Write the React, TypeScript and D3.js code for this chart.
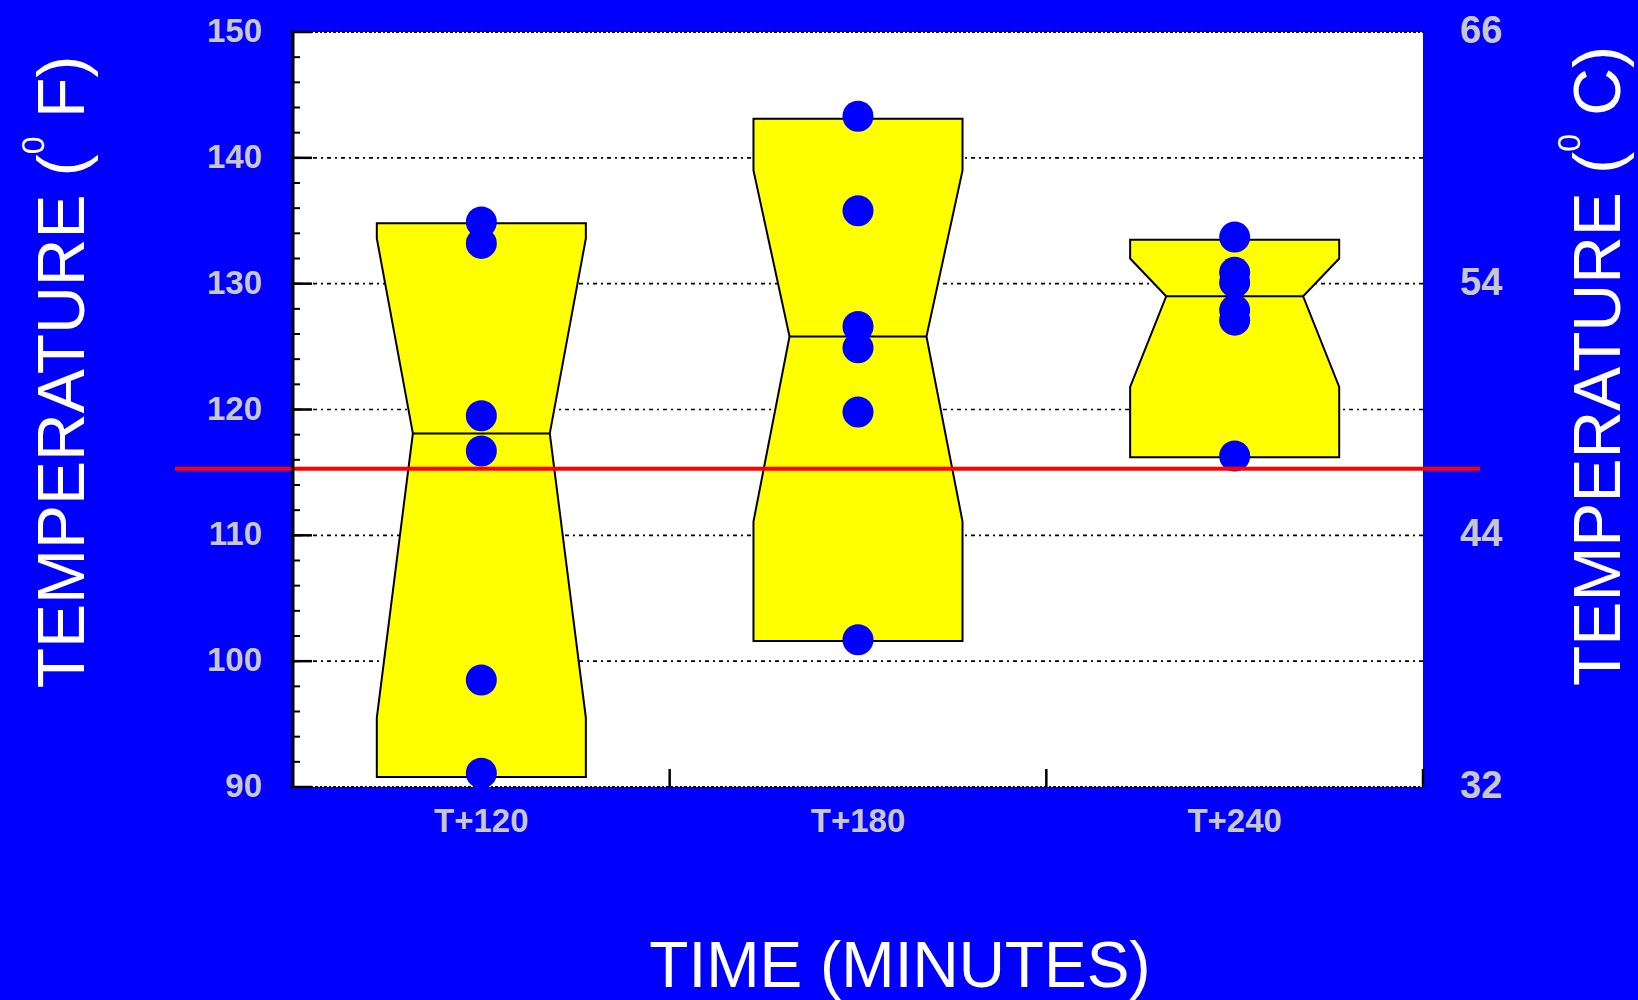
import React from "react";
import * as d3 from "d3";

const categories = ["T+120", "T+180", "T+240"];
const pointsT120 = [134.9, 133.2, 119.5, 116.7, 98.5, 91.1];
const pointsT180 = [143.3, 135.8, 126.6, 124.9, 119.8, 101.7];
const pointsT240 = [133.7, 130.9, 130.1, 127.9, 127.1, 116.3];
const seriesPoints = [pointsT120, pointsT180, pointsT240];

const boxHigh = [134.8, 143.1, 133.5];
const notchHigh = [133.6, 139.0, 132.0];
const medians = [118.1, 125.8, 129.0];
const notchLow = [95.5, 111.1, 121.8];
const boxLow = [90.8, 101.6, 116.2];

const referenceLine = 115.3;

const fTicks = [90, 100, 110, 120, 130, 140, 150];
const fMinorTicks = d3.range(90, 150.01, 2);
const cTickLabels = ["32", "44", "54", "66"];
const cTickPositionsF = [90, 110, 130, 150];

const W = 1638;
const H = 1000;
const M = { left: 293, right: 1423, top: 32, bottom: 787 };

export default function App() {
  const x = d3.scaleBand<string>().domain(categories).range([M.left, M.right]).padding(0);
  const y = d3.scaleLinear().domain([90, 150]).range([M.bottom, M.top]);
  const bw = x.bandwidth();
  const halfW = bw * 0.2775;
  const notchRatio = 0.655;
  const font = "'Liberation Sans', Arial, sans-serif";
  const tickColor = "#c8c8c8";

  const boxPath = (i: number) => {
    const cx = (x(categories[i]) as number) + bw / 2;
    const line = d3.line();
    const pts: [number, number][] = [
      [cx - halfW, y(boxHigh[i])],
      [cx - halfW, y(notchHigh[i])],
      [cx - halfW * notchRatio, y(medians[i])],
      [cx - halfW, y(notchLow[i])],
      [cx - halfW, y(boxLow[i])],
      [cx + halfW, y(boxLow[i])],
      [cx + halfW, y(notchLow[i])],
      [cx + halfW * notchRatio, y(medians[i])],
      [cx + halfW, y(notchHigh[i])],
      [cx + halfW, y(boxHigh[i])],
    ];
    return line(pts) + "Z";
  };

  return (
    <svg
      width={W}
      height={H}
      style={{ position: "absolute", left: 0, top: 0, display: "block" }}
    >
      <rect x={0} y={0} width={W} height={H} fill="#0000ff" />
      <rect x={M.left} y={M.top} width={M.right - M.left} height={M.bottom - M.top} fill="#ffffff" />

      {/* gridlines */}
      {fTicks.filter((t) => t !== 90 && t !== 150).map((t) => (
        <line
          key={"g" + t}
          x1={M.left}
          x2={M.right}
          y1={y(t)}
          y2={y(t)}
          stroke="#000"
          strokeWidth={1.6}
          strokeDasharray="2 4 4 4"
        />
      ))}
      {[90, 150].map((t) => (
        <line
          key={"b" + t}
          x1={M.left}
          x2={M.right}
          y1={y(t)}
          y2={y(t)}
          stroke="#000"
          strokeWidth={2}
          strokeDasharray="2 2 3 2"
        />
      ))}

      {/* boxes */}
      {categories.map((c, i) => {
        const cx = (x(c) as number) + bw / 2;
        return (
          <g key={c}>
            <path d={boxPath(i)} fill="#ffff00" stroke="#000" strokeWidth={2} />
            <line
              x1={cx - halfW * notchRatio}
              x2={cx + halfW * notchRatio}
              y1={y(medians[i])}
              y2={y(medians[i])}
              stroke="#000"
              strokeWidth={2}
            />
          </g>
        );
      })}

      {/* points */}
      {categories.map((c, i) => {
        const cx = (x(c) as number) + bw / 2;
        return seriesPoints[i].map((v, j) => (
          <circle key={c + j} cx={cx} cy={y(v)} r={15.5} fill="#0000ff" />
        ));
      })}

      {/* reference line */}
      <line
        x1={M.left - 118}
        x2={M.right + 57}
        y1={y(referenceLine)}
        y2={y(referenceLine)}
        stroke="#ff0000"
        strokeWidth={4}
      />

      {/* left axis */}
      <line x1={M.left} x2={M.left} y1={M.top} y2={M.bottom} stroke="#000" strokeWidth={3} />
      {fMinorTicks.map((t) => (
        <line key={"m" + t} x1={M.left} x2={M.left + 7} y1={y(t)} y2={y(t)} stroke="#000" strokeWidth={2} />
      ))}
      {fTicks.map((t) => (
        <line key={"t" + t} x1={M.left - 3} x2={M.left + 19} y1={y(t)} y2={y(t)} stroke="#000" strokeWidth={2.5} />
      ))}
      {fTicks.map((t) => (
        <text
          key={"l" + t}
          x={262}
          y={y(t) + 10}
          textAnchor="end"
          fill={tickColor}
          fontFamily={font}
          fontWeight="bold"
          fontSize={33}
        >
          {t}
        </text>
      ))}

      {/* right labels */}
      {cTickLabels.map((lab, i) => (
        <text
          key={"r" + lab}
          x={1460}
          y={y(cTickPositionsF[i]) + 11}
          textAnchor="start"
          fill={tickColor}
          fontFamily={font}
          fontWeight="bold"
          fontSize={38}
        >
          {lab}
        </text>
      ))}

      {/* x ticks */}
      {categories.map((c) => {
        const xr = (x(c) as number) + bw;
        return (
          <line key={"xt" + c} x1={xr} x2={xr} y1={M.bottom - 18} y2={M.bottom} stroke="#000" strokeWidth={2.5} />
        );
      })}
      {categories.map((c) => (
        <text
          key={"xl" + c}
          x={(x(c) as number) + bw / 2}
          y={832}
          textAnchor="middle"
          fill={tickColor}
          fontFamily={font}
          fontWeight="bold"
          fontSize={33}
        >
          {c}
        </text>
      ))}

      {/* axis titles */}
      <text x={900} y={987} textAnchor="middle" fill="#fff" fontFamily={font} fontSize={64}>
        TIME (MINUTES)
      </text>
      <text
        transform={`translate(84,372) rotate(-90)`}
        textAnchor="middle"
        fill="#fff"
        fontFamily={font}
        fontSize={66}
      >
        {"TEMPERATURE    ("}
        <tspan dy={-40} fontSize={32}>0</tspan>
        <tspan dy={40}>{" F)"}</tspan>
      </text>
      <text
        transform={`translate(1620,366) rotate(-90)`}
        textAnchor="middle"
        fill="#fff"
        fontFamily={font}
        fontSize={66}
      >
        {"TEMPERATURE    ("}
        <tspan dy={-40} fontSize={32}>0</tspan>
        <tspan dy={40}>{" C)"}</tspan>
      </text>
    </svg>
  );
}
